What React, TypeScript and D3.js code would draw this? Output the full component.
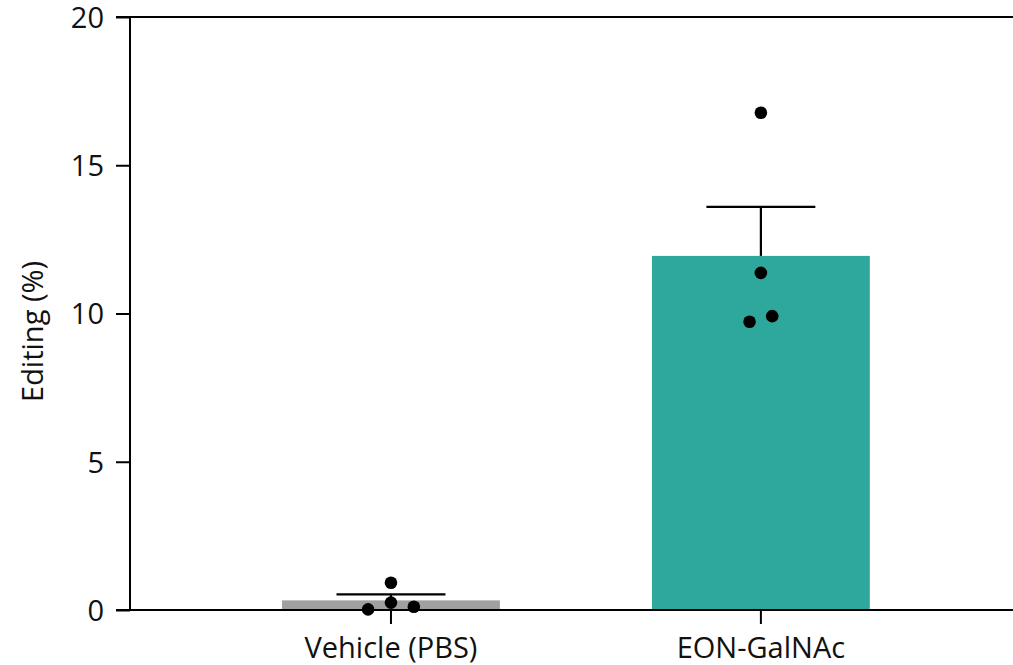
import React, { useEffect, useRef } from 'react'
import * as d3 from 'd3'

// groups shown on the x axis
const groups = ['Vehicle (PBS)', 'EON-GalNAc']
const barColors = ['#a0a0a0', '#2ea89d']

// individual animals, editing %
const vehiclePoints = [0.92, 0.02, 0.25, 0.11]
const eonPoints = [16.77, 11.37, 9.72, 9.91]
// horizontal jitter of each dot, as a fraction of the bar width
const vehicleJitter = [0, -0.105, 0, 0.105]
const eonJitter = [0, 0, -0.052, 0.052]

const yTicks = [0, 5, 10, 15, 20]
const yLabel = 'Editing (%)'

const W = 1013
const H = 665

export default function App() {
  const ref = useRef<SVGSVGElement>(null)

  useEffect(() => {
    const svg = d3.select(ref.current)
    svg.selectAll('*').remove()

    const margin = { top: 17, right: 0, bottom: 55, left: 130 }
    const font = "'Open Sans', 'Noto Sans', sans-serif"
    const fontSize = 29

    const x = d3.scaleBand<string>()
      .domain(groups)
      .range([margin.left, W - margin.right])
      .paddingInner(0.411)
      .paddingOuter(0.399)
      .align(0.515)

    const y = d3.scaleLinear()
      .domain([0, 20])
      .range([H - margin.bottom, margin.top])

    const data = [
      { name: groups[0], pts: vehiclePoints, jit: vehicleJitter, color: barColors[0] },
      { name: groups[1], pts: eonPoints, jit: eonJitter, color: barColors[1] },
    ].map(d => {
      const mean = d3.mean(d.pts) as number
      const sem = (d3.deviation(d.pts) as number) / Math.sqrt(d.pts.length)
      return { ...d, mean, sem }
    })

    const g = svg.append('g')

    // bars
    g.selectAll('rect.bar')
      .data(data)
      .enter()
      .append('rect')
      .attr('class', 'bar')
      .attr('x', d => x(d.name)!)
      .attr('width', x.bandwidth())
      .attr('y', d => y(d.mean))
      .attr('height', d => y(0) - y(d.mean))
      .attr('fill', d => d.color)

    // error bars (mean + SEM, upward only)
    const capW = x.bandwidth() * 0.5
    data.forEach(d => {
      const cx = x(d.name)! + x.bandwidth() / 2
      g.append('line')
        .attr('x1', cx).attr('x2', cx)
        .attr('y1', y(d.mean)).attr('y2', y(d.mean + d.sem))
        .attr('stroke', '#000').attr('stroke-width', 2.2)
      g.append('line')
        .attr('x1', cx - capW / 2).attr('x2', cx + capW / 2)
        .attr('y1', y(d.mean + d.sem)).attr('y2', y(d.mean + d.sem))
        .attr('stroke', '#000').attr('stroke-width', 2.2)
    })

    // y axis
    const yAxis = g.append('g')
      .attr('transform', `translate(${margin.left},0)`)
      .call(d3.axisLeft(y).tickValues(yTicks).tickSize(14).tickPadding(12).tickFormat(d3.format('d')))
    yAxis.select('.domain').attr('stroke-width', 2).attr('d', `M0,${y(0)}V${y(20)}`)
    yAxis.selectAll('.tick line').attr('stroke-width', 2)
    yAxis.selectAll('.tick text')
      .attr('font-family', font)
      .attr('font-size', fontSize)
      .attr('dy', '0.36em')
      .attr('fill', '#111')

    // top frame line
    g.append('line')
      .attr('x1', margin.left - 14).attr('x2', W)
      .attr('y1', y(20)).attr('y2', y(20))
      .attr('stroke', '#000').attr('stroke-width', 2)

    // x axis
    const xAxis = g.append('g')
      .attr('transform', `translate(0,${y(0)})`)
      .call(d3.axisBottom(x).tickSize(14).tickPadding(13))
    xAxis.select('.domain').attr('stroke-width', 2).attr('d', `M${margin.left - 14},0H${W}`)
    xAxis.selectAll('.tick line').attr('stroke-width', 2)
    xAxis.selectAll('.tick text')
      .attr('font-family', font)
      .attr('font-size', fontSize)
      .attr('fill', '#111')

    // y label
    g.append('text')
      .attr('transform', `translate(43,${(y(0) + y(20)) / 2 + 18}) rotate(-90)`)
      .attr('text-anchor', 'middle')
      .attr('font-family', font)
      .attr('font-size', fontSize)
      .attr('fill', '#111')
      .text(yLabel)

    // individual dots
    data.forEach(d => {
      const cx = x(d.name)! + x.bandwidth() / 2
      g.selectAll(null)
        .data(d.pts)
        .enter()
        .append('circle')
        .attr('cx', (v, i) => cx + d.jit[i] * x.bandwidth())
        .attr('cy', v => y(v))
        .attr('r', 6.3)
        .attr('fill', '#000')
    })
  }, [])

  return (
    <div>
      <svg ref={ref} width={W} height={H} style={{ position: 'absolute', left: 0, top: 0 }} />
    </div>
  )
}
